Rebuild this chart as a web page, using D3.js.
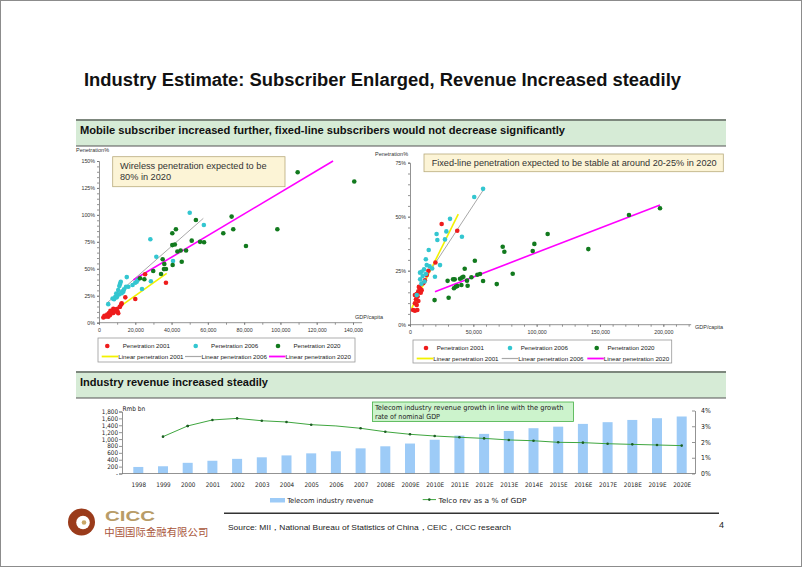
<!DOCTYPE html>
<html>
<head>
<meta charset="utf-8">
<script src="https://cdn.jsdelivr.net/npm/d3@7"></script>
<style>
html, body { margin: 0; padding: 0; background: #fff; }
svg { display: block; font-family: "Liberation Sans", Arial, sans-serif; }
</style>
</head>
<body>
<svg id="slide" width="802" height="567"></svg>
<script>
// ---- data ----
var titleText = "Industry Estimate: Subscriber Enlarged, Revenue Increased steadily";
var section1 = "Mobile subscriber increased further, fixed-line subscribers would not decrease significantly";
var section2 = "Industry revenue increased steadily";

// wireless (left chart): [GDP per capita, penetration %]
var wireless2001 = [[25400,45],[36900,37],[20000,22],[14500,23.5],[12300,17],[11400,14.5],[11600,15],[9800,12.7],
  [10300,10],[10600,8.7],[7900,13],[7900,9],[6900,8.7],[9600,10.5],[5100,5.6],[4000,6],[2400,4.8],[3500,5.8],
  [6000,7],[8500,11],[5500,9],[4500,7.5],[7000,10],[3000,6.5],[12500,18],[8800,12],[6300,11]];
var wireless2006 = [[50000,102],[57800,90.6],[28300,77.4],[31600,61.2],[40800,57.3],[28600,38.5],[23700,31.2],
  [21300,39.6],[20800,38],[20000,37],[15300,42.3],[12000,38],[11600,36],[11200,34],[16200,33.4],[14900,33.4],
  [12500,27.3],[13400,28.8],[11200,26.3],[10100,25.7],[9000,24],[9800,23.5],[8300,21.7],[5100,17.2],[10600,30.3],
  [12800,29],[7500,22.5],[9500,27],[13800,31],[18500,35]];
var wireless2020 = [[109500,139.5],[140700,131],[53400,95.3],[73100,98.4],[42400,86.7],[40400,83],[74000,86.7],
  [98300,86.7],[68500,83],[81000,71.2],[40400,72],[41800,72.5],[51100,76.1],[55700,75],[57900,74.6],[43200,66],
  [45000,67],[48000,67],[35100,58.8],[45600,56.6],[36000,54.5],[40600,53.5],[35800,49.7],[36900,49.8],[29900,48],
  [34200,45.2],[22600,41.2],[25000,40.3]];
var wirelessFit2001 = [[2400,4.1],[37300,45.8]];
var wirelessFit2006 = [[4200,18],[57500,96.8]];
var wirelessFit2020 = [[18900,39.6],[129000,150]];

// fixed line (right chart)
var fixed2001 = [[25000,46.6],[37300,43.5],[20100,28.8],[14500,25],[13200,23],[11800,20.5],[10500,19.2],[7900,16.8],
  [6600,15.5],[8500,14.8],[5300,14.2],[3900,13.7],[6000,13],[4700,11.8],[6600,11],[3900,9.9],[5300,9.1],[2400,6.8],
  [3900,6.5],[5800,6.8],[9200,16],[7000,17.5]];
var fixed2006 = [[57700,62.9],[50700,59.1],[31600,49],[28700,43.2],[21000,42],[21600,39.2],[41000,40.7],[27600,39.5],
  [14800,34.6],[12500,30.3],[23700,27.6],[19700,22.2],[7900,24.1],[9200,24.5],[11100,25.6],[13200,27.6],[15500,27],
  [17500,26],[8000,21],[10000,22.5],[11500,20],[9000,19],[5300,13.7],[12500,23.5]];
var fixed2020 = [[197400,53.9],[172900,50.8],[140800,35],[108700,42],[98200,37.4],[96900,34.1],[73200,36.1],
  [74500,33.8],[81100,23.6],[68500,18.8],[57700,20.2],[51200,29.6],[55300,23.5],[53200,23.1],[43200,25.9],
  [42100,22.2],[41100,21.8],[39500,21.3],[45000,20.4],[45500,18],[48500,22],[40600,18.4],[35300,21],[34000,21],
  [29700,20.3],[37400,17.9],[36100,17.6],[34700,16.9],[30500,12.5],[19400,11.4]];
var fixedFit2001 = [[1300,7.6],[38100,51.2]];
var fixedFit2006 = [[2600,13],[58700,63.1]];
var fixedFit2020 = [[19700,15.3],[197400,55.4]];

var wirelessYTicks = [0,25,50,75,100,125,150];
var wirelessXTicks = [0,20000,40000,60000,80000,100000,120000,140000];
var fixedYTicks = [0,25,50,75];
var fixedXTicks = [0,50000,100000,150000,200000];

// revenue chart
var years = ["1998","1999","2000","2001","2002","2003","2004","2005","2006","2007","2008E","2009E","2010E",
  "2011E","2012E","2013E","2014E","2015E","2016E","2017E","2018E","2019E","2020E"];
var revenue = [190,210,310,370,425,470,525,585,645,730,790,870,980,1100,1150,1235,1315,1360,1440,1490,1555,1605,1655];
var revShare = [null,2.34,3.02,3.40,3.50,3.35,3.27,3.10,3.02,2.87,2.65,2.49,2.38,2.30,2.23,2.13,2.08,1.98,1.96,1.89,1.85,1.81,1.77];
var revTicks = [0,200,400,600,800,1000,1200,1400,1600,1800];
var shareTicks = [0,1,2,3,4];

var seriesNames = ["Penetration 2001","Penetration 2006","Penetration 2020"];
var fitNames = ["Linear penetration 2001","Linear penetration 2006","Linear penetration 2020"];

var dotColors = ["#ee1c1c","#33c6d0","#127a1e"];
var fitColors = ["#f2f200","#a8a8a8","#ff00ff"];
var fitWidths = [1.6,1,1.6];

var svg = d3.select("#slide");

svg.append("rect").attr("x",0.5).attr("y",0.5).attr("width",801).attr("height",566)
  .attr("fill","#fff").attr("stroke","#8c8c8c");

svg.append("text").attr("x",84).attr("y",86)
  .attr("font-size",18).attr("font-weight","bold").attr("fill","#111")
  .attr("textLength",597).attr("lengthAdjust","spacingAndGlyphs")
  .text(titleText);

function sectionBar(y, label, len) {
  svg.append("rect").attr("x",76).attr("y",y).attr("width",650).attr("height",26).attr("fill","#d6ebd6");
  svg.append("line").attr("x1",76).attr("x2",726).attr("y1",y).attr("y2",y)
    .attr("stroke","#7d877d").attr("stroke-width",2);
  svg.append("line").attr("x1",76).attr("x2",726).attr("y1",y+26).attr("y2",y+26)
    .attr("stroke","#555").attr("stroke-width",1.2);
  svg.append("text").attr("x",80).attr("y",y+13.8)
    .attr("font-size",10.8).attr("font-weight","bold").attr("fill","#111")
    .attr("textLength",len).attr("lengthAdjust","spacingAndGlyphs")
    .text(label);
}
sectionBar(120, section1, 485);
sectionBar(372, section2, 188);

function scatter(cfg) {
  var x = cfg.x, y = cfg.y;
  var g = svg.append("g");

  // axes
  g.append("g").attr("transform","translate(" + x(0) + ",0)")
    .call(d3.axisLeft(y).tickValues(cfg.yTicks).tickFormat(function(d) { return d + "%"; })
      .tickSize(2).tickPadding(2));
  g.append("g").attr("transform","translate(" + x(0) + ",0)")
    .call(d3.axisLeft(y).tickValues(d3.range(0, cfg.yMax + 0.1, 5)).tickFormat("").tickSize(2))
    .select(".domain").remove();
  var xa = g.append("g").attr("transform","translate(0," + y(0) + ")")
    .call(d3.axisBottom(x).tickValues(cfg.xTicks).tickFormat(d3.format(",")).tickSize(2).tickPadding(4));
  g.append("g").attr("transform","translate(0," + y(0) + ")")
    .call(d3.axisBottom(x).tickValues(d3.range(0, cfg.xEnd, cfg.xMinor)).tickFormat("").tickSize(2))
    .select(".domain").remove();
  xa.select(".domain").attr("d", "M" + x(0) + ",0H" + x(cfg.xEnd));
  g.selectAll(".domain, .tick line").attr("stroke","#777").attr("stroke-width",0.8);
  g.selectAll(".tick text").attr("font-size",5.3).attr("fill","#333")
    .attr("font-family","'Liberation Sans', Arial, sans-serif");

  g.append("text").attr("x",cfg.yLabelX).attr("y",cfg.yLabelY).attr("font-size",5.5).attr("fill","#333")
    .text("Penetration%");
  g.append("text").attr("x",cfg.xLabelX).attr("y",cfg.xLabelY).attr("font-size",5.5).attr("fill","#333")
    .text("GDP/capita");

  // fit lines
  var line = d3.line().x(function(d) { return x(d[0]); }).y(function(d) { return y(d[1]); });
  cfg.fits.forEach(function(f, i) {
    g.append("path").attr("d", line(f)).attr("fill","none")
      .attr("stroke", fitColors[i]).attr("stroke-width", fitWidths[i]);
  });

  // points
  cfg.series.forEach(function(s, i) {
    g.append("g").selectAll("circle").data(s).enter().append("circle")
      .attr("cx", function(d) { return x(d[0]); })
      .attr("cy", function(d) { return y(d[1]); })
      .attr("r", 2.3)
      .attr("fill", dotColors[i]);
  });

  // note box
  var nb = cfg.note;
  g.append("rect").attr("x",nb.x).attr("y",nb.y).attr("width",nb.w).attr("height",nb.h)
    .attr("fill","#fcf4d6").attr("stroke","#b8ab7c").attr("stroke-width",0.8);
  nb.lines.forEach(function(t, i) {
    g.append("text").attr("x",nb.tx).attr("y",nb.ty + i * 10.5)
      .attr("font-size",9).attr("fill","#333")
      .attr("textLength", nb.lens[i]).attr("lengthAdjust","spacingAndGlyphs")
      .text(t);
  });

  // legend
  var lg = cfg.legend;
  g.append("rect").attr("x",lg.x).attr("y",lg.y).attr("width",lg.w).attr("height",lg.h)
    .attr("fill","#fff").attr("stroke","#999").attr("stroke-width",0.8);
  seriesNames.forEach(function(n, i) {
    g.append("circle").attr("cx",lg.dotX[i]).attr("cy",lg.y + 8).attr("r",2.3).attr("fill",dotColors[i]);
    g.append("text").attr("x",lg.dotX[i] + lg.gap).attr("y",lg.y + 10.2)
      .attr("font-size",6.2).attr("fill","#222").text(n);
  });
  fitNames.forEach(function(n, i) {
    g.append("line").attr("x1",lg.lineX[i]).attr("x2",lg.lineX[i] + lg.lineW)
      .attr("y1",lg.y + 18.5).attr("y2",lg.y + 18.5)
      .attr("stroke",fitColors[i]).attr("stroke-width",fitWidths[i] + 0.2);
    g.append("text").attr("x",lg.lineX[i] + lg.lineW).attr("y",lg.y + 20.7)
      .attr("font-size",6.2).attr("fill","#222").text(n);
  });
}

scatter({
  x: d3.scaleLinear().domain([0,140000]).range([99,353]),
  y: d3.scaleLinear().domain([0,150]).range([322.7,161]),
  yTicks: wirelessYTicks, yMax: 150,
  xTicks: wirelessXTicks, xEnd: 145000, xMinor: 10000,
  yLabelX: 76, yLabelY: 152, xLabelX: 355, xLabelY: 319,
  series: [wireless2001, wireless2006, wireless2020],
  fits: [wirelessFit2001, wirelessFit2006, wirelessFit2020],
  note: { x: 112.7, y: 156.7, w: 172.3, h: 30, tx: 120, ty: 169.3,
          lines: ["Wireless penetration expected to be", "80% in 2020"], lens: [146.5, 51] },
  legend: { x: 98, y: 338, w: 257, h: 24, dotX: [107.3,195.7,278], gap: 15.4,
            lineX: [101.7,185,269], lineW: 16.5 }
});

scatter({
  x: d3.scaleLinear().domain([0,200000]).range([410,663.3]),
  y: d3.scaleLinear().domain([0,75]).range([324.7,162.7]),
  yTicks: fixedYTicks, yMax: 75,
  xTicks: fixedXTicks, xEnd: 222000, xMinor: 10000,
  yLabelX: 375, yLabelY: 155.5, xLabelX: 695, xLabelY: 329,
  series: [fixed2001, fixed2006, fixed2020],
  fits: [fixedFit2001, fixedFit2006, fixedFit2020],
  note: { x: 424, y: 154, w: 299.3, h: 17.7, tx: 431.7, ty: 166.2,
          lines: ["Fixed-line penetration expected to be stable at around 20-25% in 2020"], lens: [285] },
  legend: { x: 413, y: 340, w: 258.7, h: 23, dotX: [426,510,596.7], gap: 10.7,
            lineX: [416.7,501.7,587.3], lineW: 16.5 }
});

// ---- revenue chart ----
var xB = d3.scalePoint().domain(years).range([138.3,681.7]);
var yB = d3.scaleLinear().domain([0,1800]).range([473.5,411.5]);
var yP = d3.scaleLinear().domain([0,4]).range([473.5,410.5]);
var gb = svg.append("g");

gb.append("g").selectAll("rect").data(revenue).enter().append("rect")
  .attr("x", function(d, i) { return xB(years[i]) - 5; })
  .attr("y", function(d) { return yB(d); })
  .attr("width", 10)
  .attr("height", function(d) { return yB(0) - yB(d); })
  .attr("fill", "#9dcbf7");

gb.append("g").attr("transform","translate(122,0)")
  .call(d3.axisLeft(yB).tickValues(revTicks)
    .tickFormat(function(d) { return d === 0 ? "-" : d3.format(",")(d); })
    .tickSize(3).tickPadding(1));
var axR = gb.append("g").attr("transform","translate(695,0)")
  .call(d3.axisRight(yP).tickValues(shareTicks).tickFormat(function(d) { return d + "%"; })
    .tickSizeInner(-3).tickSizeOuter(0).tickPadding(6));
var axX = gb.append("g").attr("transform","translate(0," + yB(0) + ")")
  .call(d3.axisBottom(xB).tickSize(0).tickPadding(8.7));
axX.select(".domain").attr("d","M122,0H695");
gb.selectAll(".domain, .tick line").attr("stroke","#777").attr("stroke-width",0.8);
gb.selectAll(".tick text").attr("font-size",6.3).attr("fill","#222")
  .attr("font-family","'DejaVu Sans Condensed', 'DejaVu Sans', sans-serif");
axR.selectAll(".tick text").attr("font-size",6.8);

gb.append("text").attr("x",122.5).attr("y",411).attr("font-size",6.5).attr("fill","#222")
  .attr("font-family","'DejaVu Sans Condensed', 'DejaVu Sans', sans-serif").text("Rmb bn");

var shareLine = d3.line()
  .defined(function(d) { return d != null; })
  .x(function(d, i) { return xB(years[i]); })
  .y(function(d) { return yP(d); });
gb.append("path").attr("d", shareLine(revShare)).attr("fill","none")
  .attr("stroke","#3fa63f").attr("stroke-width",1);
gb.append("g").selectAll("circle").data(revShare).enter()
  .filter(function(d) { return d != null; })
  .append("circle")
  .attr("cx", function(d) { return xB(years[revShare.indexOf(d)]); })
  .attr("cy", function(d) { return yP(d); })
  .attr("r", 1.3).attr("fill","#1d5e24");

// note
gb.append("rect").attr("x",372.5).attr("y",402).attr("width",201).attr("height",19.5)
  .attr("fill","#ccf3cc").attr("stroke","#45b045").attr("stroke-width",0.8);
gb.append("text").attr("x",375).attr("y",410.4).attr("font-size",7).attr("fill","#222")
  .attr("font-family","'DejaVu Sans Condensed', 'DejaVu Sans', sans-serif")
  .attr("textLength",188.5).attr("lengthAdjust","spacingAndGlyphs")
  .text("Telecom industry revenue growth in line with the growth");
gb.append("text").attr("x",375).attr("y",419).attr("font-size",7).attr("fill","#222")
  .attr("font-family","'DejaVu Sans Condensed', 'DejaVu Sans', sans-serif")
  .attr("textLength",65).attr("lengthAdjust","spacingAndGlyphs")
  .text("rate of nominal GDP");

// legend
gb.append("rect").attr("x",270).attr("y",498).attr("width",15).attr("height",4.5).attr("fill","#9dcbf7");
gb.append("text").attr("x",287.3).attr("y",502.5).attr("font-size",7).attr("fill","#222")
  .attr("font-family","'DejaVu Sans Condensed', 'DejaVu Sans', sans-serif")
  .attr("textLength",86).attr("lengthAdjust","spacingAndGlyphs").text("Telecom industry revenue");
gb.append("line").attr("x1",422.7).attr("x2",436).attr("y1",499.6).attr("y2",499.6)
  .attr("stroke","#3fa63f").attr("stroke-width",1);
gb.append("circle").attr("cx",429.3).attr("cy",499.6).attr("r",1.3).attr("fill","#1d5e24");
gb.append("text").attr("x",438.5).attr("y",502.5).attr("font-size",7).attr("fill","#222")
  .attr("font-family","'DejaVu Sans Condensed', 'DejaVu Sans', sans-serif")
  .attr("textLength",88).attr("lengthAdjust","spacingAndGlyphs").text("Telco rev as a % of GDP");

// ---- footer ----
svg.append("line").attr("x1",224).attr("x2",719).attr("y1",513.3).attr("y2",513.3)
  .attr("stroke","#333").attr("stroke-width",1.5);
svg.append("text").attr("x",228).attr("y",530).attr("font-size",8).attr("fill","#222")
  .attr("textLength",283).attr("lengthAdjust","spacingAndGlyphs")
  .text("Source:  MII\uff0cNational Bureau of Statistics of China\uff0cCEIC\uff0cCICC research");
svg.append("text").attr("x",719).attr("y",527.5).attr("font-size",9).attr("fill","#222").text("4");

// logo
var logo = svg.append("g").attr("transform","translate(81.5,522)");
logo.append("circle").attr("r",13.5).attr("fill","#9a3b1b");
logo.append("path").attr("d","M2,-12.5 A12.5,12.5 0 0 1 2,12.5 A8.5,8.5 0 0 0 2,-12.5 Z").attr("fill","#c9a766");
logo.append("circle").attr("cx",1.5).attr("cy",0.5).attr("r",6.8).attr("fill","#fff");
logo.append("path").attr("d","M-1,-5 A5,5 0 1 0 5,3 A3,3 0 0 1 -1,-5 Z").attr("fill","#9a3b1b");
logo.append("circle").attr("cx",2.5).attr("cy",0.5).attr("r",2.3).attr("fill","#c9a766");
svg.append("text").attr("x",105).attr("y",520.5).attr("font-size",14.5).attr("font-weight","bold")
  .attr("fill","#b89c68")
  .attr("textLength",50).attr("lengthAdjust","spacingAndGlyphs").text("CICC");
svg.append("text").attr("x",104.3).attr("y",535.5).attr("font-size",10).attr("fill","#a8553a")
  .attr("font-family","'Noto Sans CJK SC', sans-serif")
  .attr("textLength",104).attr("lengthAdjust","spacingAndGlyphs").text("中国国际金融有限公司");
</script>
</body>
</html>
